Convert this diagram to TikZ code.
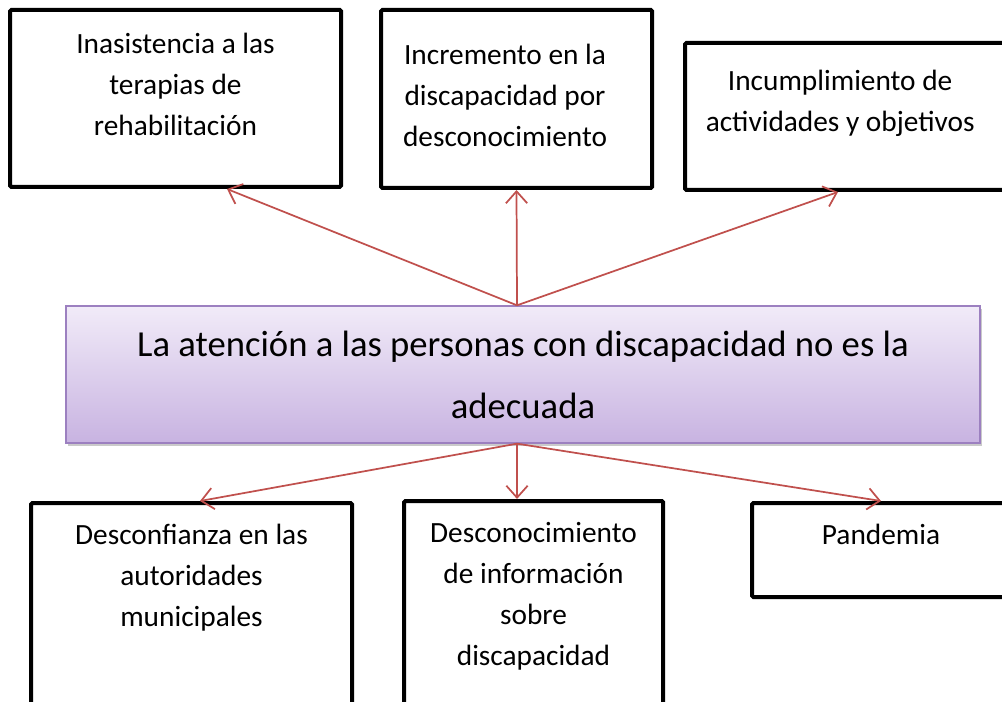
\documentclass[tikz,border=0pt]{standalone}
\usepackage{fontspec}
\setmainfont{Carlito}
\usetikzlibrary{arrows.meta,positioning,calc,fit,shadows}
\definecolor{arrowred}{HTML}{C0504D}
\definecolor{lavtop}{HTML}{F1EBF8}
\definecolor{lavbot}{HTML}{C8B3E1}
\definecolor{lavline}{HTML}{9C80C0}
\tikzset{
  effbox/.style={draw=black, line width=3pt, rounded corners=1pt, inner sep=0pt},
  efftxt/.style={font=\fontsize{22}{30.75}\selectfont, align=center, inner sep=0pt},
  mainbox/.style={draw=lavline, line width=1pt, top color=lavtop, bottom color=lavbot,
    inner sep=0pt, drop shadow={shadow xshift=1.5pt, shadow yshift=-2.5pt, opacity=.35, fill=black!60}},
  maintxt/.style={font=\fontsize{27.5}{46.5}\selectfont, align=center, inner sep=0pt},
  link/.style={draw=arrowred, line width=1.3pt, -{Straight Barb[length=9pt,width=16pt]}},
}

\begin{document}
\begin{tikzpicture}[x=0.75pt, y=-0.75pt]
  \useasboundingbox (0,0) rectangle (1002,702);
  \clip (0,0) rectangle (1002,702);

  % effects
  \node[effbox, fit={(10,10) (341,187)}] (b1) {};
  \node[effbox, fit={(381,10) (652,188)}] (b2) {};
  \node[effbox, fit={(685,43) (1006,190)}] (b3) {};
  \node[efftxt, below=19pt of b1.north] (t1) {Inasistencia a las\\terapias de\\rehabilitación};
  \node[efftxt, below=27pt of b2.north, xshift=-8.6pt] (t2) {Incremento en la\\discapacidad por\\desconocimiento};
  \node[efftxt, below=22pt of b3.north, xshift=-4pt] (t3) {Incumplimiento de\\actividades y objetivos};

  % problem
  \node[mainbox, fit={(66,306) (980,443)}] (prob) {};
  \node[maintxt] (probtxt) at (prob.center) {La atención a las personas con discapacidad no es la\\adecuada};

  % causes
  \node[effbox, fit={(31,503) (352,712)}] (b4) {};
  \node[effbox, fit={(404,501) (663,712)}] (b5) {};
  \node[effbox, fit={(752,503) (1010,597)}] (b6) {};
  \node[efftxt, below=17pt of b4.north] (t4) {Desconfianza en las\\autoridades\\municipales};
  \node[efftxt, below=17pt of b5.north] (t5) {Desconocimiento\\de información\\sobre\\discapacidad};
  \node[efftxt, below=17pt of b6.north] (t6) {Pandemia};

  \coordinate (up) at ($(prob.north)+(-6,0)$);
  \coordinate (down) at ($(prob.south)+(-6,0)$);
  \draw[link] (up) -- ($(b1.south)+(51.5,0)$);
  \draw[link] (up) -- (b2.south);
  \draw[link] (up) -- ($(b3.south)+(-7.5,0)$);
  \draw[link] (down) -- ($(b4.north)+(8.5,0)$);
  \draw[link] (down) -- ($(b5.north)+(-16.5,0)$);
  \draw[link] (down) -- (b6.north);
\end{tikzpicture}
\end{document}
